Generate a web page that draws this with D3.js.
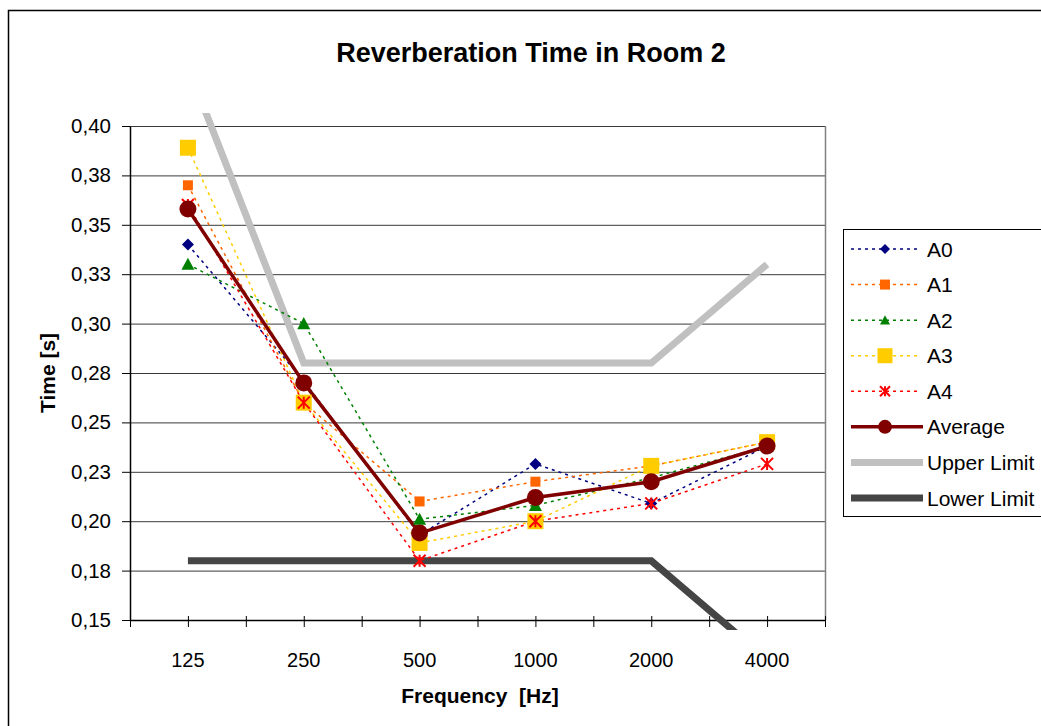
<!DOCTYPE html>
<html>
<head>
<meta charset="utf-8">
<script src="https://cdn.jsdelivr.net/npm/d3@7"></script>
<style>
  html, body { margin: 0; padding: 0; background: #fff; }
  svg { display: block; }
  text { font-family: "Liberation Sans", Arial, sans-serif; fill: #000; }
</style>
</head>
<body>
<svg id="chart" width="1041" height="726"></svg>
<script>
// Frequency bands (Hz)
const categories = ["125", "250", "500", "1000", "2000", "4000"];

// Measured reverberation times per position (s)
const A0 = [0.340, 0.271, 0.193, 0.229, 0.209, 0.238];
const A1 = [0.370, 0.260, 0.210, 0.220, 0.228, 0.240];
const A2 = [0.330, 0.300, 0.201, 0.208, 0.222, 0.238];
const A3 = [0.389, 0.260, 0.189, 0.200, 0.228, 0.240];
const A4 = [0.360, 0.260, 0.180, 0.200, 0.209, 0.229];
const Average = [0.358, 0.270, 0.194, 0.212, 0.220, 0.238];

// Tolerance range
const UpperLimit = [0.430, 0.280, 0.280, 0.280, 0.280, 0.330];
const LowerLimit = [0.180, 0.180, 0.180, 0.180, 0.180, 0.130];

// Value axis
const yTickValues = [0.15, 0.175, 0.20, 0.225, 0.25, 0.275, 0.30, 0.325, 0.35, 0.375, 0.40];
const yTickLabels = ["0,15", "0,18", "0,20", "0,23", "0,25", "0,28", "0,30", "0,33", "0,35", "0,38", "0,40"];

const FONT = '"Liberation Sans", Arial, sans-serif';
const svg = d3.select("#chart");

const plot = { left: 130, top: 126, right: 825, bottom: 620 };

const x = d3.scaleBand().domain(categories).range([plot.left, plot.right]).paddingInner(0).paddingOuter(0);
const cx = c => x(c) + x.bandwidth() / 2;
const y = d3.scaleLinear().domain([0.15, 0.40]).range([plot.bottom, plot.top]);

// Outer chart frame (extends past the visible area on the right and bottom)
svg.append("rect")
  .attr("x", 8.5).attr("y", 10.5)
  .attr("width", 1100).attr("height", 800)
  .attr("fill", "#fff").attr("stroke", "#000").attr("stroke-width", 1.5);

// Title
svg.append("text")
  .attr("x", 531).attr("y", 62)
  .attr("text-anchor", "middle")
  .style("font-size", "27px").style("font-weight", "bold")
  .text("Reverberation Time in Room 2");

// Horizontal gridlines
svg.append("g")
  .attr("transform", `translate(${plot.left},0)`)
  .call(d3.axisLeft(y).tickValues(yTickValues).tickSize(-(plot.right - plot.left)).tickFormat(""))
  .call(g => g.select(".domain").remove())
  .call(g => g.selectAll(".tick line").attr("stroke", "#3a3a3a").attr("stroke-width", 1));

// Plot area right border
svg.append("line")
  .attr("x1", plot.right + 0.5).attr("x2", plot.right + 0.5)
  .attr("y1", plot.top).attr("y2", plot.bottom)
  .attr("stroke", "#808080").attr("stroke-width", 1.5);

// Y axis
const yAxis = svg.append("g")
  .attr("transform", `translate(${plot.left},0)`)
  .call(d3.axisLeft(y).tickValues(yTickValues).tickFormat((d, i) => yTickLabels[i]).tickSizeInner(8).tickSizeOuter(0).tickPadding(11));
yAxis.select(".domain").attr("stroke", "#000").attr("stroke-width", 1.5);
yAxis.selectAll(".tick line").attr("stroke", "#000").attr("stroke-width", 1);
yAxis.selectAll(".tick text").style("font-size", "20.5px").style("font-family", FONT);

// X axis: tick marks at every band boundary and band centre, crossing the axis line
const xTickPositions = [];
categories.forEach(c => { xTickPositions.push(x(c)); xTickPositions.push(cx(c)); });
xTickPositions.push(plot.right);
const xTickScale = d3.scaleIdentity().domain([plot.left, plot.right]);
const xAxis = svg.append("g")
  .attr("transform", `translate(0,${plot.bottom})`)
  .call(d3.axisBottom(xTickScale).tickValues(xTickPositions).tickFormat("").tickSizeInner(7).tickSizeOuter(0));
xAxis.select(".domain").attr("stroke", "#000").attr("stroke-width", 1.5);
xAxis.selectAll(".tick line").attr("y1", -4).attr("stroke", "#000").attr("stroke-width", 1);

// Category labels
svg.append("g").selectAll("text")
  .data(categories).join("text")
  .attr("x", d => cx(d)).attr("y", 667)
  .attr("text-anchor", "middle")
  .style("font-size", "20px")
  .text(d => d);

// Axis titles
svg.append("text")
  .attr("x", 480).attr("y", 703)
  .attr("text-anchor", "middle")
  .style("font-size", "21px").style("font-weight", "bold")
  .text("Frequency\u00A0 [Hz]");

svg.append("text")
  .attr("transform", "translate(55,373) rotate(-90)")
  .attr("text-anchor", "middle")
  .style("font-size", "21px").style("font-weight", "bold")
  .text("Time [s]");

// Clip for the series lines
svg.append("clipPath").attr("id", "plotClip")
  .append("rect")
  .attr("x", plot.left).attr("y", plot.top - 13)
  .attr("width", plot.right - plot.left).attr("height", plot.bottom - plot.top + 23);

// Marker shapes
function markerPath(type, s) {
  const h = s / 2;
  switch (type) {
    case "diamond": return `M0,${-h}L${h},0L0,${h}L${-h},0Z`;
    case "square": return `M${-h},${-h}H${h}V${h}H${-h}Z`;
    case "triangle": return `M0,${-h}L${h},${h * 0.85}L${-h},${h * 0.85}Z`;
    case "star": return `M0,${-h}V${h}M${-h},${-h}L${h},${h}M${-h},${h}L${h},${-h}`;
    default: return "";
  }
}

const series = [
  { name: "A0", values: A0, color: "#000080", marker: "diamond", size: 12, dash: "3,4", width: 1.5 },
  { name: "A1", values: A1, color: "#FF6600", marker: "square", size: 10, dash: "3,4", width: 1.5 },
  { name: "A2", values: A2, color: "#008000", marker: "triangle", size: 13, dash: "3,4", width: 1.5 },
  { name: "A3", values: A3, color: "#FFCC00", marker: "square", size: 16, dash: "3,4", width: 1.5 },
  { name: "A4", values: A4, color: "#FF0000", marker: "star", size: 12, dash: "3,4", width: 1.5 },
  { name: "Average", values: Average, color: "#800000", marker: "circle", size: 17, dash: null, width: 3.5 }
];
const limits = [
  { name: "Upper Limit", values: UpperLimit, color: "#C0C0C0" },
  { name: "Lower Limit", values: LowerLimit, color: "#454545" }
];

const line = d3.line().x((d, i) => cx(categories[i])).y(d => y(d));

const linesG = svg.append("g").attr("clip-path", "url(#plotClip)");

// Tolerance limits
linesG.selectAll("path.limit")
  .data(limits).join("path")
  .attr("class", "limit")
  .attr("d", d => line(d.values))
  .attr("fill", "none")
  .attr("stroke", d => d.color)
  .attr("stroke-width", 7)
  .attr("stroke-linejoin", "miter");

// Series lines
linesG.selectAll("path.series")
  .data(series).join("path")
  .attr("class", "series")
  .attr("d", d => line(d.values))
  .attr("fill", "none")
  .attr("stroke", d => d.color)
  .attr("stroke-width", d => d.width)
  .attr("stroke-dasharray", d => d.dash);

// Markers
function drawMarker(sel, s) {
  if (s.marker === "circle") {
    sel.append("circle").attr("r", s.size / 2).attr("fill", s.color);
  } else if (s.marker === "star") {
    sel.append("path").attr("d", markerPath("star", s.size))
      .attr("fill", "none").attr("stroke", s.color).attr("stroke-width", 2);
  } else {
    sel.append("path").attr("d", markerPath(s.marker, s.size)).attr("fill", s.color);
  }
}

const markersG = svg.append("g");
series.forEach(s => {
  s.values.forEach((v, i) => {
    const g = markersG.append("g").attr("transform", `translate(${cx(categories[i])},${y(v)})`);
    drawMarker(g, s);
  });
});

// Legend
const legend = svg.append("g");
legend.append("rect")
  .attr("x", 843.5).attr("y", 229.5)
  .attr("width", 300).attr("height", 287)
  .attr("fill", "#fff").attr("stroke", "#000").attr("stroke-width", 1);

const legendItems = series.map(s => ({ ...s, kind: "series" }))
  .concat(limits.map(l => ({ ...l, kind: "limit" })));
const rowY = d3.scaleLinear().domain([0, legendItems.length - 1]).range([249, 498]);

legendItems.forEach((item, i) => {
  const yy = rowY(i);
  const g = legend.append("g");
  if (item.kind === "limit") {
    g.append("line").attr("x1", 851).attr("x2", 923).attr("y1", yy).attr("y2", yy)
      .attr("stroke", item.color).attr("stroke-width", 7);
  } else {
    const solid = !item.dash;
    g.append("line").attr("x1", 851).attr("x2", solid ? 923 : 917).attr("y1", yy).attr("y2", yy)
      .attr("stroke", item.color).attr("stroke-width", item.width)
      .attr("stroke-dasharray", item.dash);
    const m = g.append("g").attr("transform", `translate(885,${yy})`);
    const legendSize = item.marker === "circle" ? 14 : (item.name === "A3" ? 15 : 10);
    drawMarker(m, { ...item, size: legendSize });
  }
  g.append("text")
    .attr("x", 927).attr("y", yy).attr("dy", "0.36em")
    .style("font-size", "21px")
    .text(item.name);
});
</script>
</body>
</html>
